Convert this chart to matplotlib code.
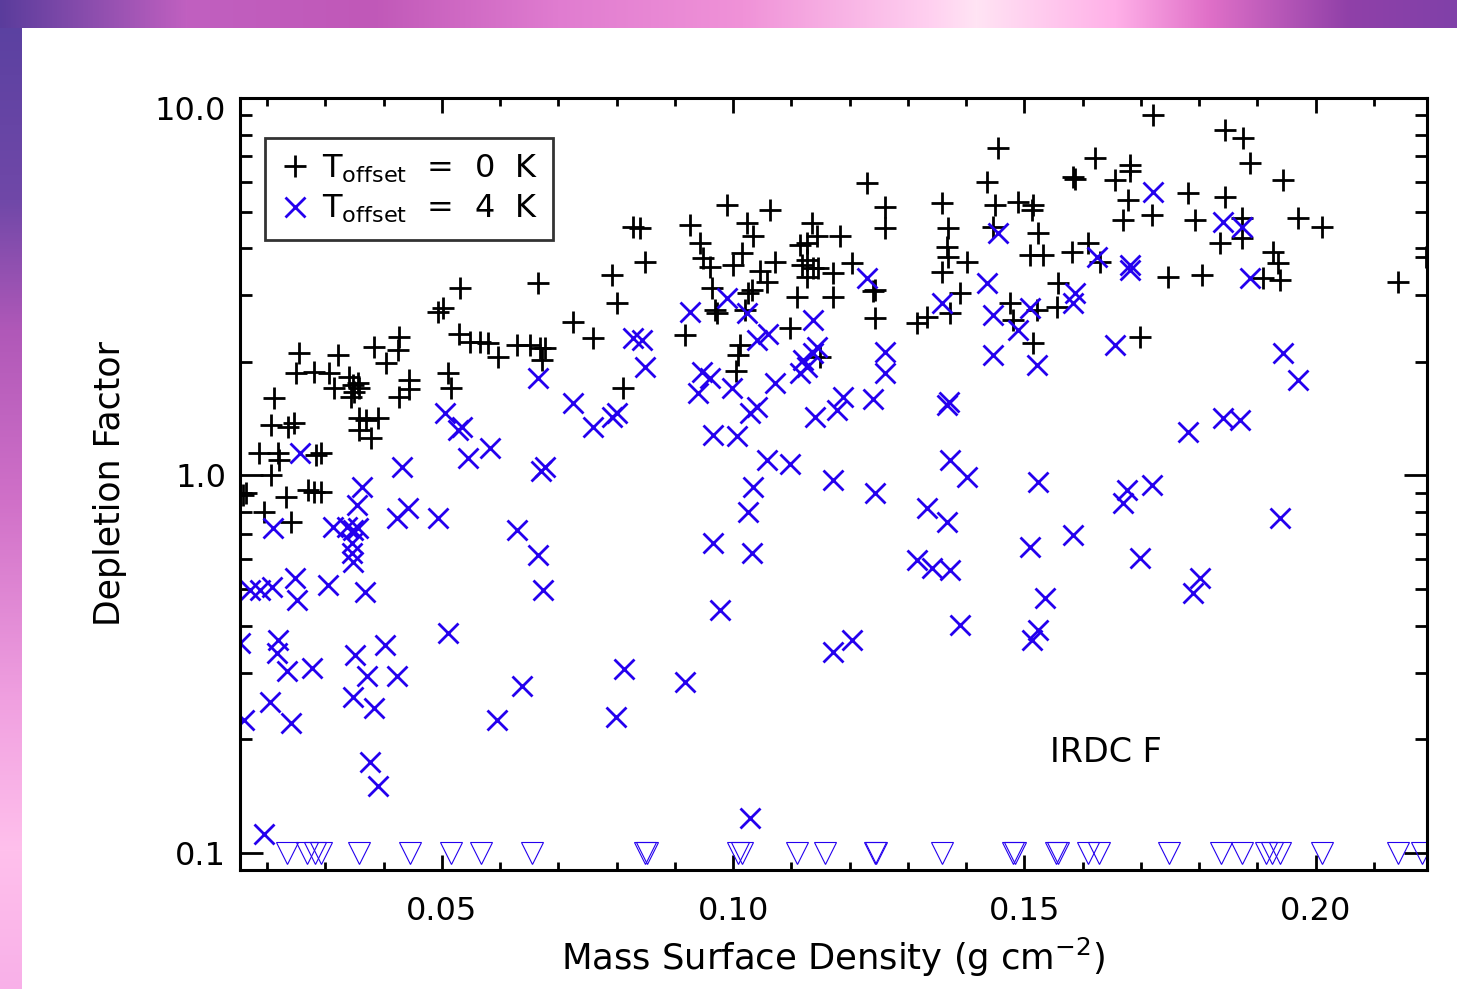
import numpy as np
import matplotlib
matplotlib.use('Agg')
import matplotlib.pyplot as plt
from matplotlib.transforms import ScaledTranslation
from matplotlib.ticker import FixedLocator, FixedFormatter, MultipleLocator, LogLocator, NullFormatter

plt.rcParams['font.family'] = ['DejaVu Sans']
plt.rcParams['mathtext.fontset'] = 'custom'
plt.rcParams['mathtext.rm'] = 'DejaVu Sans'
plt.rcParams['mathtext.it'] = 'DejaVu Sans'

# T_offset = 0 K (black plus)
sigma_0k = [0.0255, 0.0249, 0.0280, 0.0306, 0.0322, 0.0315, 0.0340, 0.0347, 0.0349, 0.0356,
            0.0358, 0.0344, 0.0383, 0.0404, 0.0426, 0.0425, 0.0443, 0.0426, 0.0443, 0.0510,
            0.0516, 0.0529, 0.0548, 0.0212, 0.0207, 0.0236, 0.0246, 0.0358, 0.0370, 0.0390,
            0.0358, 0.0378, 0.0186, 0.0219, 0.0220, 0.0284, 0.0292, 0.0207, 0.0158, 0.0164,
            0.0232, 0.0270, 0.0280, 0.0292, 0.0195, 0.0241, 0.0531, 0.0493, 0.0502, 0.0565,
            0.0579, 0.0596, 0.0629, 0.0651, 0.0668, 0.0677, 0.0672, 0.0665, 0.0725, 0.0759,
            0.0792, 0.0800, 0.0811, 0.0828, 0.0840, 0.0848, 0.0917, 0.0926, 0.0943, 0.0948,
            0.0960, 0.0964, 0.0969, 0.0972, 0.0989, 0.1000, 0.1015, 0.1024, 0.1034, 0.1025,
            0.1032, 0.1020, 0.1046, 0.1058, 0.1072, 0.1063, 0.1012, 0.1008, 0.1005, 0.1097,
            0.1109, 0.1115, 0.1127, 0.1118, 0.1127, 0.1135, 0.1144, 0.1137, 0.1145, 0.1127,
            0.1171, 0.1171, 0.1183, 0.1204, 0.1230, 0.1243, 0.1240, 0.1243, 0.1260, 0.1260,
            0.1315, 0.1332, 0.1358, 0.1369, 0.1367, 0.1369, 0.1358, 0.1372, 0.1389, 0.1401,
            0.1436, 0.1449, 0.1454, 0.1446, 0.1475, 0.1480, 0.1489, 0.1149, 0.1720, 0.1844,
            0.1875, 0.1887, 0.1944, 0.1621, 0.1583, 0.1586, 0.1681, 0.1681, 0.1655, 0.1677,
            0.1514, 0.1513, 0.1781, 0.1844, 0.1669, 0.1719, 0.1793, 0.1969, 0.2011, 0.1523,
            0.1873, 0.1873, 0.1835, 0.1509, 0.1532, 0.1581, 0.1609, 0.1629, 0.1926, 0.1935,
            0.1746, 0.1805, 0.1909, 0.1938, 0.2141, 0.1557, 0.1521, 0.1556, 0.1514, 0.1698,
            0.2189]
depl_0k = [2.11, 1.87, 1.88, 1.87, 2.09, 1.71, 1.82, 1.74, 1.66, 1.76,
           1.71, 1.61, 2.19, 1.99, 2.33, 2.15, 1.79, 1.61, 1.69, 1.87,
           1.71, 2.37, 2.26, 1.60, 1.36, 1.34, 1.38, 1.42, 1.40, 1.42,
           1.32, 1.26, 1.15, 1.15, 1.10, 1.13, 1.15, 1.00, 0.888, 0.899,
           0.877, 0.915, 0.904, 0.904, 0.800, 0.753, 3.14, 2.71, 2.78, 2.26,
           2.24, 2.06, 2.22, 2.22, 2.18, 2.18, 2.02, 3.24, 2.55, 2.31,
           3.40, 2.86, 1.71, 4.55, 4.52, 3.68, 2.36, 4.61, 4.13, 3.77,
           3.57, 3.14, 2.74, 2.69, 5.21, 3.61, 3.89, 4.67, 4.31, 3.04,
           3.10, 2.74, 3.48, 3.26, 3.68, 5.05, 2.22, 2.09, 1.89, 2.46,
           2.97, 4.08, 4.13, 3.61, 3.72, 4.67, 4.31, 3.55, 3.55, 3.36,
           3.44, 2.97, 4.31, 3.66, 5.95, 3.10, 3.08, 2.61, 5.14, 4.52,
           2.54, 2.63, 5.27, 4.52, 4.03, 3.79, 3.46, 2.69, 3.04, 3.68,
           5.99, 5.21, 7.37, 4.55, 2.86, 2.58, 5.30, 2.06, 9.02, 8.23,
           7.83, 6.73, 6.07, 6.94, 6.18, 6.10, 6.64, 6.41, 6.07, 5.37,
           5.21, 5.05, 5.60, 5.47, 4.75, 4.90, 4.75, 4.81, 4.55, 4.39,
           4.81, 4.26, 4.13, 3.84, 3.84, 3.91, 4.13, 3.68, 3.91, 3.66,
           3.36, 3.40, 3.34, 3.30, 3.26, 3.24, 2.74, 2.80, 2.24, 2.33,
           3.79]

# T_offset = 4 K (blue cross)
sigma_4k = [0.0665, 0.1454, 0.1230, 0.0989, 0.0926, 0.1024, 0.1137, 0.1358, 0.1436, 0.1446,
            0.1446, 0.1260, 0.1260, 0.0828, 0.0843, 0.0848, 0.0946, 0.0960, 0.1041, 0.1060,
            0.1137, 0.1144, 0.1120, 0.1127, 0.1115, 0.0940, 0.0998, 0.1072, 0.1188, 0.1178,
            0.1240, 0.1029, 0.1041, 0.1140, 0.0965, 0.1006, 0.1367, 0.1370, 0.1058, 0.1097,
            0.1171, 0.1243, 0.1372, 0.1401, 0.1034, 0.1025, 0.0965, 0.1032, 0.1332, 0.1367,
            0.1315, 0.1341, 0.1372, 0.0977, 0.1389, 0.1171, 0.1204, 0.0812, 0.0917, 0.1969,
            0.1781, 0.1841, 0.1870, 0.1523, 0.1676, 0.1669, 0.1719, 0.1938, 0.1509, 0.1583,
            0.1698, 0.1535, 0.1801, 0.1789, 0.1523, 0.1513, 0.1720, 0.1624, 0.1681, 0.1681,
            0.1841, 0.1873, 0.1887, 0.1586, 0.1583, 0.1509, 0.1489, 0.1521, 0.1655, 0.1944,
            0.0256, 0.0431, 0.0505, 0.0527, 0.0534, 0.0545, 0.0582, 0.0725, 0.0759, 0.0792,
            0.0800, 0.0629, 0.0665, 0.0673, 0.0670, 0.0677, 0.0363, 0.0354, 0.0442, 0.0423,
            0.0493, 0.0313, 0.0337, 0.0347, 0.0356, 0.0346, 0.0346, 0.0347, 0.0210, 0.0170,
            0.0208, 0.0188, 0.0248, 0.0251, 0.0304, 0.0368, 0.0153, 0.0219, 0.0217, 0.0234,
            0.0277, 0.0351, 0.0402, 0.0371, 0.0423, 0.0510, 0.0637, 0.0205, 0.0160, 0.0241,
            0.0347, 0.0383, 0.0594, 0.0799, 0.0376, 0.0390, 0.0195, 0.1029]
depl_4k = [1.81, 4.39, 3.34, 2.95, 2.71, 2.69, 2.58, 2.86, 3.24, 2.66,
           2.09, 2.12, 1.87, 2.31, 2.29, 1.94, 1.88, 1.81, 2.29, 2.37,
           2.11, 2.19, 2.02, 1.94, 1.87, 1.65, 1.71, 1.76, 1.61, 1.49,
           1.59, 1.46, 1.52, 1.43, 1.28, 1.27, 1.54, 1.57, 1.10, 1.07,
           0.973, 0.899, 1.10, 0.991, 0.932, 0.800, 0.663, 0.623, 0.820, 0.753,
           0.597, 0.569, 0.562, 0.440, 0.402, 0.341, 0.367, 0.307, 0.284, 1.79,
           1.30, 1.42, 1.40, 0.961, 0.915, 0.846, 0.944, 0.772, 0.647, 0.696,
           0.605, 0.474, 0.535, 0.488, 0.390, 0.367, 5.64, 3.79, 3.61, 3.50,
           4.69, 4.55, 3.34, 3.04, 2.86, 2.78, 2.43, 1.96, 2.22, 2.11,
           1.15, 1.05, 1.46, 1.32, 1.34, 1.11, 1.18, 1.56, 1.34, 1.43,
           1.46, 0.717, 0.616, 0.497, 1.03, 1.05, 0.932, 0.835, 0.820, 0.772,
           0.772, 0.731, 0.731, 0.717, 0.726, 0.663, 0.623, 0.590, 0.726, 0.497,
           0.507, 0.497, 0.535, 0.468, 0.513, 0.491, 0.360, 0.367, 0.339, 0.303,
           0.309, 0.335, 0.356, 0.294, 0.294, 0.383, 0.277, 0.251, 0.225, 0.221,
           0.259, 0.242, 0.225, 0.229, 0.174, 0.150, 0.112, 0.124]

# upper limits for T_offset = 4 K, drawn at 0.1
sigma_lim = [0.0234, 0.0268, 0.0282, 0.0292, 0.0358, 0.0445, 0.0515, 0.0567, 0.0654, 0.0848,
             0.0852, 0.1008, 0.1015, 0.1109, 0.1158, 0.1243, 0.1245, 0.1358, 0.1480, 0.1484,
             0.1554, 0.1557, 0.1609, 0.1628, 0.1748, 0.1837, 0.1873, 0.1914, 0.1925, 0.1938,
             0.2011, 0.2141, 0.2182]
depl_lim = [0.1] * len(sigma_lim)

xticks = [0.05, 0.10, 0.15, 0.20]
xticklabels = ['0.05', '0.10', '0.15', '0.20']
yticks = [0.1, 1.0, 10.0]
yticklabels = ['0.1', '1.0', '10.0']

blue = '#2400ee'
W, H = 1457, 989
fig = plt.figure(figsize=(W / 100, H / 100), dpi=100)

# purple/pink frame strips
top_pos = [0, 186, 372, 558, 743, 929, 976, 1115, 1208, 1348, 1457]
top_col = ['#5a3c9c', '#c060c0', '#c058b8', '#e07cd0', '#f092d8', '#ffd0f0',
           '#ffe4f4', '#ffb0e8', '#e070c8', '#9040a8', '#8040a8']
left_pos = [0, 200, 330, 500, 700, 850, 989]
left_col = ['#5840a0', '#7048a8', '#b058b8', '#d070c8', '#f0a0e0', '#ffc0ec', '#f8b0e8']


def ramp(pos, cols, n):
    rgb = np.array([matplotlib.colors.to_rgb(c) for c in cols])
    t = np.arange(n)
    return np.stack([np.interp(t, pos, rgb[:, k]) for k in range(3)], axis=-1)


bg = np.ones((H, W, 3))
bg[:, :22, :] = ramp(left_pos, left_col, H)[:, None, :]
bg[:28, :, :] = ramp(top_pos, top_col, W)[None, :, :]
bgax = fig.add_axes([0, 0, 1, 1], zorder=-1)
bgax.imshow(bg, aspect='auto', interpolation='bilinear')
bgax.axis('off')

ax = fig.add_axes([240 / W, 1 - 870 / H, 1187 / W, 772 / H])
ax.set_yscale('log')

ax.plot(sigma_0k, depl_0k, ls='none', marker='+', ms=15.5, mew=2.0, color='black',
        label=r'T$_{\mathrm{offset}}$  =  0  K')
ax.plot(sigma_4k, depl_4k, ls='none', marker='x', ms=15, mew=2.0, color=blue,
        label=r'T$_{\mathrm{offset}}$  =  4  K')
ax.plot(sigma_lim, depl_lim, ls='none', marker='v', ms=16, mew=0.8, mfc='none', mec=blue)

ax.set_xlim(0.01533, 0.2191)
ax.set_ylim(0.0901, 10.0)

ax.xaxis.set_major_locator(FixedLocator(xticks))
ax.xaxis.set_major_formatter(FixedFormatter(xticklabels))
ax.xaxis.set_minor_locator(MultipleLocator(0.01))
ax.yaxis.set_major_locator(FixedLocator(yticks))
ax.yaxis.set_major_formatter(FixedFormatter(yticklabels))
ax.yaxis.set_minor_locator(LogLocator(base=10, subs=np.arange(2, 10)))
ax.yaxis.set_minor_formatter(NullFormatter())

ax.tick_params(which='both', direction='in', top=True, right=True, width=2, labelsize=23)
ax.tick_params(axis='x', which='major', length=11, pad=19)
ax.tick_params(axis='x', which='minor', length=5.5)
ax.tick_params(axis='y', which='major', length=16.5, pad=10)
ax.tick_params(axis='y', which='minor', length=8.5)
for s in ax.spines.values():
    s.set_linewidth(2.2)

# the top label sits a little below the axis top in the original
top_lbl = ax.yaxis.get_majorticklabels()[-1]
top_lbl.set_transform(top_lbl.get_transform() + ScaledTranslation(0, -0.1, fig.dpi_scale_trans))

ax.set_xlabel(r'Mass Surface Density (g cm$^{-2}$)', fontsize=25.5, labelpad=6)
ax.set_ylabel('Depletion Factor', fontsize=25, labelpad=20)

ax.text(0.1544, 0.185, 'IRDC F', fontsize=24, ha='left', va='center')

leg = ax.legend(loc='upper left', bbox_to_anchor=(0.021, 0.948), borderaxespad=0,
                fontsize=23, frameon=True, fancybox=False, handlelength=1.0,
                handletextpad=0.35, borderpad=0.45, labelspacing=0.25)
leg.get_frame().set_edgecolor('black')
leg.get_frame().set_linewidth(2)

fig.savefig('out.png', dpi=100)
